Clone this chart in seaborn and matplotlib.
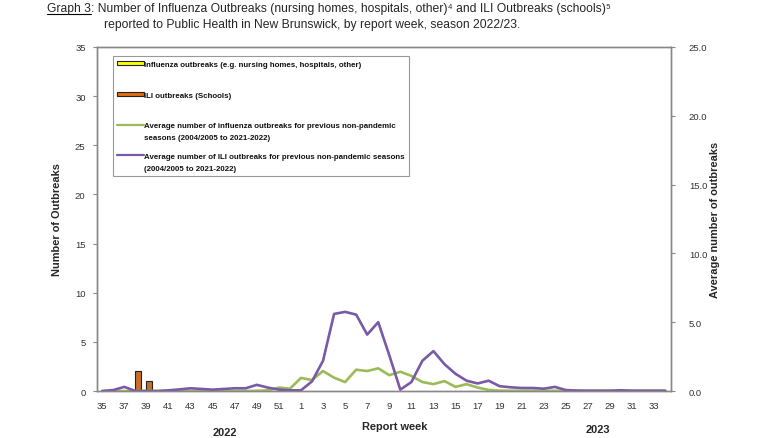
import numpy as np
import pandas as pd
import matplotlib
matplotlib.use("Agg")
import matplotlib.pyplot as plt
from matplotlib.patches import Patch, Rectangle
from matplotlib.lines import Line2D
from matplotlib import font_manager
import seaborn as sns

# ---- data ----
weeks = [str(w) for w in list(range(35, 53)) + list(range(1, 35))]
flu_outbreaks = [0] * 52
ili_outbreaks = [0, 0, 0, 2, 1] + [0] * 47
avg_flu = [0.0, 0.0, 0.0, 0.0, 0.0, 0.0, 0.0, 0.0, 0.0, 0.0, 0.0, 0.0, 0.0, 0.0, 0.02, 0.05, 0.25, 0.17,
           0.95, 0.8, 1.45, 0.97, 0.65, 1.55, 1.45, 1.65, 1.15, 1.4, 1.1, 0.65, 0.5, 0.72, 0.3, 0.5,
           0.25, 0.08, 0.03, 0.02, 0.02, 0.02, 0.02, 0.02, 0.02, 0.02, 0.02, 0.02, 0.02, 0.02, 0.02, 0.02, 0.02, 0.02]
avg_ili = [0.0, 0.07, 0.3, 0.0, 0.0, 0.0, 0.05, 0.12, 0.2, 0.15, 0.1, 0.15, 0.2, 0.2, 0.45, 0.25, 0.1, 0.05,
           0.05, 0.7, 2.2, 5.6, 5.75, 5.55, 4.1, 5.0, 2.6, 0.1, 0.65, 2.2, 2.9, 1.95, 1.25, 0.75,
           0.55, 0.75, 0.35, 0.27, 0.22, 0.22, 0.17, 0.3, 0.07, 0.03, 0.02, 0.02, 0.02, 0.05, 0.02, 0.02, 0.02, 0.02]
year_labels = ["2022", "2023"]
legend_labels = [["Influenza outbreaks (e.g. nursing homes, hospitals, other)"],
                 ["ILI outbreaks (Schools)"],
                 ["Average number of influenza outbreaks for previous non-pandemic",
                  "seasons (2004/2005 to 2021-2022)"],
                 ["Average number of ILI outbreaks for previous non-pandemic seasons",
                  "(2004/2005 to 2021-2022)"]]

df = pd.DataFrame({"week": weeks, "pos": np.arange(len(weeks)),
                   "flu": flu_outbreaks, "ili": ili_outbreaks,
                   "avg_flu": avg_flu, "avg_ili": avg_ili})

sns.set_style("white")
installed = {f.name for f in font_manager.fontManager.ttflist}
if "Liberation Sans Narrow" in installed:
    FONT = ["Liberation Sans Narrow", "DejaVu Sans"]
    S = 1.0
else:
    FONT = ["Liberation Sans", "DejaVu Sans"]
    S = 0.83
plt.rcParams["font.family"] = FONT

W, H = 780, 439
fig = plt.figure(figsize=(W / 100, H / 100), dpi=100)
ax = fig.add_axes([0.124, 0.107, 0.736, 0.784])

ORANGE = "#E46C0A"
YELLOW = "#FFFF00"
GREEN = "#9BBB59"
PURPLE = "#7A59A6"

bars_df = df.melt(id_vars=["week", "pos"], value_vars=["flu", "ili"], var_name="kind", value_name="n")
sns.barplot(data=bars_df, x="week", y="n", hue="kind", order=weeks, hue_order=["flu", "ili"],
            palette={"flu": YELLOW, "ili": ORANGE}, width=1.1, edgecolor="#222222", linewidth=0.8,
            legend=False, ax=ax)
for p in ax.patches:
    if p.get_height() == 0:
        p.set_linewidth(0)

ax.set_ylim(0, 35)
ax.set_xlim(-0.5, len(weeks) - 0.5)
ax.set_yticks(range(0, 36, 5))
ax.set_xticks(range(0, len(weeks), 2))
ax.set_xticklabels(weeks[::2])
ax.set_xticks(range(len(weeks)), minor=True)
ax.set_xlabel("")
ax.set_ylabel("Number of Outbreaks", fontsize=9.5 * S, fontweight="bold", labelpad=9)

ax2 = ax.twinx()
sns.lineplot(data=df, x="pos", y="avg_flu", color=GREEN, linewidth=1.9, ax=ax2)
sns.lineplot(data=df, x="pos", y="avg_ili", color=PURPLE, linewidth=1.9, ax=ax2)
ax2.set_ylim(0, 25)
ax2.set_yticks(range(0, 26, 5))
ax2.set_yticklabels([f"{v:.1f}" for v in range(0, 26, 5)])
ax2.set_xlim(-0.5, len(weeks) - 0.5)
ax2.set_xlabel("")
ax2.set_ylabel("Average number of outbreaks", fontsize=9.5 * S, fontweight="bold", labelpad=2)

for a in (ax, ax2):
    for s in a.spines.values():
        s.set_color("#888888")
        s.set_linewidth(1.0)
    a.tick_params(axis="both", labelsize=8.2 * S, colors="#333333", length=3, width=0.8, direction="out",
                  pad=3)
    a.tick_params(axis="both", color="#888888")
ax.tick_params(axis="x", which="minor", length=3, width=0.8, color="#888888", direction="out")
ax.tick_params(axis="x", which="major", length=3, pad=4)
ax2.tick_params(axis="y", pad=10)
ax.tick_params(axis="y", pad=5)

# legend (first lines in legend, continuation lines as text beneath)
handles = [Patch(facecolor=YELLOW, edgecolor="#222222", linewidth=0.8),
           Patch(facecolor=ORANGE, edgecolor="#222222", linewidth=0.8),
           Line2D([], [], color=GREEN, linewidth=1.6),
           Line2D([], [], color=PURPLE, linewidth=1.6)]
LFS = 6.8 * S
leg = ax.legend(handles, [l[0] for l in legend_labels], loc="upper left",
                bbox_to_anchor=(117 / W, 1 - 62 / H), bbox_transform=fig.transFigure,
                fontsize=LFS, frameon=False, handlelength=3.5, handleheight=0.45, handletextpad=0.0,
                labelspacing=3.0, borderpad=0, borderaxespad=0)
for t in leg.get_texts():
    t.set_fontweight("bold")
    t.set_color("#111111")

fig.canvas.draw()
r = fig.canvas.get_renderer()
xmax = 0
ymin = H
for t, lab in zip(leg.get_texts(), legend_labels):
    e = t.get_window_extent(r)
    xmax = max(xmax, e.x1)
    if len(lab) > 1:
        cy = (e.y0 + e.y1) / 2 - 12
        t2 = fig.text(e.x0 / W, cy / H, lab[1], ha="left", va="center", fontsize=LFS,
                      fontweight="bold", color="#111111")
        e2 = t2.get_window_extent(r)
        xmax = max(xmax, e2.x1)
        ymin = min(ymin, cy)
box_left, box_top = 113, H - 57
box_bottom = ymin - 8
fig.add_artist(Rectangle((box_left / W, box_bottom / H), (xmax + 4 - box_left) / W,
                         (box_top - box_bottom) / H, transform=fig.transFigure, fill=False,
                         edgecolor="#999999", linewidth=0.8))

# x labels below
fig.text(395 / W, 1 - 427 / H, "Report week", ha="center", va="center", fontsize=9.5 * S, fontweight="bold")
fig.text(225 / W, 1 - 433 / H, year_labels[0], ha="center", va="center", fontsize=9.5 * S, fontweight="bold")
fig.text(598 / W, 1 - 430 / H, year_labels[1], ha="center", va="center", fontsize=9.5 * S, fontweight="bold")

# title
tfs = 10.5 * S
t1 = fig.text(47 / W, 1 - 9 / H, "Graph 3", ha="left", va="center", fontsize=tfs)
bb = t1.get_window_extent(r)
fig.add_artist(Line2D([bb.x0 / W, bb.x1 / W], [(bb.y0 + 0.5) / H] * 2, color="black", linewidth=0.8,
                      transform=fig.transFigure))
fig.text(bb.x1 / W, 1 - 9 / H,
         ": Number of Influenza Outbreaks (nursing homes, hospitals, other)\u2074 and ILI Outbreaks (schools)\u2075",
         ha="left", va="center", fontsize=tfs)
fig.text(104 / W, 1 - 25 / H,
         "reported to Public Health in New Brunswick, by report week, season 2022/23.",
         ha="left", va="center", fontsize=tfs)

fig.savefig("out.png", dpi=100)
